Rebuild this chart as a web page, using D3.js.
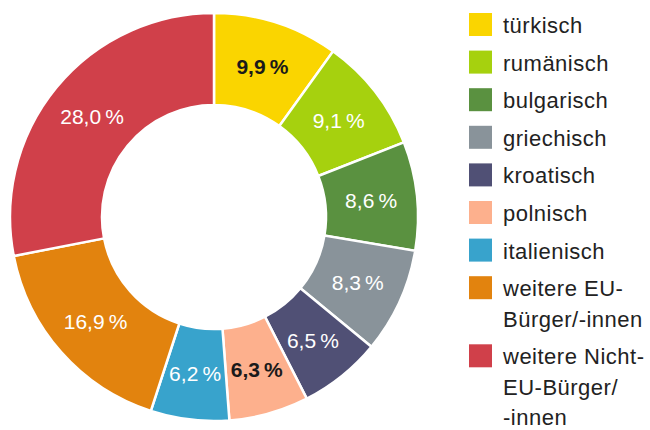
<!DOCTYPE html>
<html>
<head>
<meta charset="utf-8">
<script src="https://cdn.jsdelivr.net/npm/d3@7"></script>
<style>
  body { margin: 0; background: #fff; }
  #chart { width: 650px; height: 430px; }
  text { font-family: "Liberation Sans", Arial, Helvetica, sans-serif; }
</style>
</head>
<body>
<div id="chart"></div>
<script>
// data
var categories = ["türkisch", "rumänisch", "bulgarisch", "griechisch", "kroatisch",
                  "polnisch", "italienisch", "weitere EU-Bürger/-innen", "weitere Nicht-EU-Bürger/-innen"];
var shares = [9.9, 9.1, 8.6, 8.3, 6.5, 6.3, 6.2, 16.9, 28.0];
var legendLines = [["türkisch"], ["rumänisch"], ["bulgarisch"], ["griechisch"], ["kroatisch"],
                   ["polnisch"], ["italienisch"], ["weitere EU-", "Bürger/-innen"],
                   ["weitere Nicht-", "EU-Bürger/", "-innen"]];
var colors = ["#fad500", "#a6d10e", "#5a9140", "#89939a", "#505075",
              "#fdb08d", "#38a3cc", "#e2830e", "#d0404a"];
var darkLabels = ["türkisch", "polnisch"];

var width = 650, height = 430;
var cx = 214, cy = 217, outerR = 204, innerR = 112;

var svg = d3.select("#chart")
  .append("svg")
    .attr("width", width)
    .attr("height", height);

var data = categories.map(function(c, i) { return {name: c, value: shares[i], color: colors[i]}; });

var pie = d3.pie()
  .sort(null)
  .value(function(d) { return d.value; });

var arc = d3.arc()
  .innerRadius(innerR)
  .outerRadius(outerR);

var labelArc = d3.arc()
  .innerRadius((innerR + outerR) / 2)
  .outerRadius((innerR + outerR) / 2);

var g = svg.append("g")
  .attr("transform", "translate(" + cx + "," + cy + ")");

g.selectAll("path")
  .data(pie(data))
  .enter()
  .append("path")
    .attr("d", arc)
    .style("fill", function(d) { return d.data.color; })
    .style("stroke", "#fff")
    .style("stroke-width", 2.5);

var fmt = function(v) { return v.toFixed(1).replace(".", ",") + "\u2009%"; };

g.selectAll("text.val")
  .data(pie(data))
  .enter()
  .append("text")
    .attr("class", "val")
    .attr("transform", function(d) { return "translate(" + labelArc.centroid(d) + ")"; })
    .attr("text-anchor", "middle")
    .attr("dy", "0.36em")
    .style("font-size", "21px")
    .style("fill", function(d) { return darkLabels.indexOf(d.data.name) >= 0 ? "#1a1a1a" : "#fff"; })
    .style("font-weight", function(d) { return darkLabels.indexOf(d.data.name) >= 0 ? "bold" : "normal"; })
    .text(function(d) { return fmt(d.data.value); });

// legend
var lx = 469, ly = 13, box = 23, rowH = 37.6, lineH = 30.5;
var legend = svg.append("g");
var yPos = ly;
data.forEach(function(d, i) {
  var item = legend.append("g").attr("transform", "translate(" + lx + "," + yPos + ")");
  item.append("rect")
    .attr("width", box)
    .attr("height", box)
    .style("fill", d.color);
  var t = item.append("text")
    .attr("x", 34)
    .attr("y", box / 2 + 8.5)
    .style("font-size", "22px")
    .style("letter-spacing", "0.5px")
    .style("fill", "#222");
  legendLines[i].forEach(function(line, j) {
    t.append("tspan")
      .attr("x", 34)
      .attr("y", box / 2 + 8.5 + j * lineH)
      .text(line);
  });
  yPos += rowH + (legendLines[i].length - 1) * lineH;
});
</script>
</body>
</html>
